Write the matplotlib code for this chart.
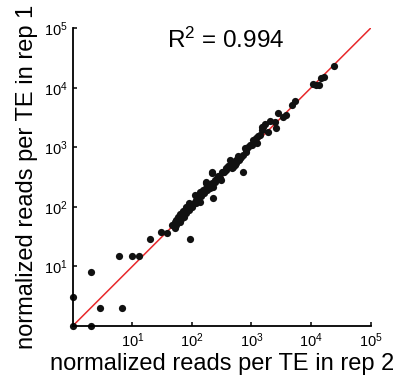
import matplotlib
matplotlib.use('Agg')
import matplotlib.pyplot as plt
from matplotlib.ticker import FixedLocator, FixedFormatter, NullLocator

plt.rcParams['font.family'] = ['Liberation Sans', 'DejaVu Sans']
plt.rcParams['mathtext.fontset'] = 'custom'
plt.rcParams['mathtext.rm'] = 'Liberation Sans'
plt.rcParams['mathtext.it'] = 'Liberation Sans'

# normalized reads per TE (rep 2 on x, rep 1 on y)
rep2 = [1, 1, 2.0, 2.0, 2.9, 6.8, 5.9, 9.7, 12.7, 19.5, 30, 38, 94, 55,
        47, 53, 58, 62, 70, 75, 85, 55, 64, 81, 91, 99, 111, 119, 135, 151,
        175, 198, 241, 72, 60, 91, 107, 125,
        217, 225, 719, 332,
        175, 186, 220, 225, 241, 270, 292, 312, 316, 368, 379, 398, 430, 465,
        489, 483, 546, 557, 588, 617, 634, 676, 719, 820, 800, 873, 933, 1035,
        1177, 1237, 1374, 1524, 1500, 198, 170,
        1667, 1893, 1540, 2078, 2455, 2620, 2787, 3381, 3756, 4866, 5321,
        10810, 12330, 13620, 14960, 16340, 24100,
        51, 62, 67, 81, 115, 140, 157, 135, 177, 214, 260, 341, 430, 522,
        769, 1047, 1132, 1271]
rep1 = [1, 3.0, 1, 8.1, 2.0, 2.0, 15, 15, 15, 29, 38, 36, 29, 49,
        49, 55, 68, 75, 85, 67, 95, 60, 65, 100, 114, 100, 157, 130, 122, 191,
        247, 204, 263, 82, 60, 88, 116, 145,
        379, 138, 387, 387,
        263, 232, 364, 217, 281, 328, 304, 281, 387, 414, 442, 489, 502, 442,
        470, 536, 609, 536, 711, 609, 658, 692, 739, 840, 897, 1019, 1089, 1089,
        1412, 1164, 1603, 2160, 1945, 232, 206,
        2455, 1823, 2213, 2787, 2685, 2078, 3715, 3256, 3475, 5117, 5970,
        11400, 11090, 11090, 14390, 15310, 23440,
        44, 55, 65, 78, 115, 151, 170, 177, 191, 250, 304, 387, 609, 502,
        969, 1321, 1271, 1542]

diag = [1, 1e5]
tick_vals = [1e1, 1e2, 1e3, 1e4, 1e5]
tick_labels = [r'$\mathregular{10^{1}}$', r'$\mathregular{10^{2}}$',
               r'$\mathregular{10^{3}}$', r'$\mathregular{10^{4}}$',
               r'$\mathregular{10^{5}}$']

fig = plt.figure(figsize=(3.98, 3.87), dpi=100)
ax = fig.add_axes([0.183, 0.158, 0.748, 0.769])

ax.plot(diag, diag, color='#e8282b', lw=1.1, zorder=1)
ax.plot(rep2, rep1, 'o', color='#111111', ms=5.2, mew=0, zorder=2, clip_on=False)

ax.set_xscale('log')
ax.set_yscale('log')
ax.set_xlim(1, 1e5)
ax.set_ylim(1, 1e5)

for axis in (ax.xaxis, ax.yaxis):
    axis.set_major_locator(FixedLocator(tick_vals))
    axis.set_major_formatter(FixedFormatter(tick_labels))
    axis.set_minor_locator(NullLocator())

ax.spines['top'].set_visible(False)
ax.spines['right'].set_visible(False)
for s in ('left', 'bottom'):
    ax.spines[s].set_linewidth(1.3)
ax.tick_params(direction='in', length=3, width=1.1, labelsize=10.5, pad=4)

ax.set_xlabel('normalized reads per TE in rep 2', fontsize=17, labelpad=2)
ax.set_ylabel('normalized reads per TE in rep 1', fontsize=17, labelpad=4)

fig.text(0.568, 0.897, r'R$^2$ = 0.994', fontsize=17.5, ha='center', va='center')

fig.savefig('out.png', dpi=100)
